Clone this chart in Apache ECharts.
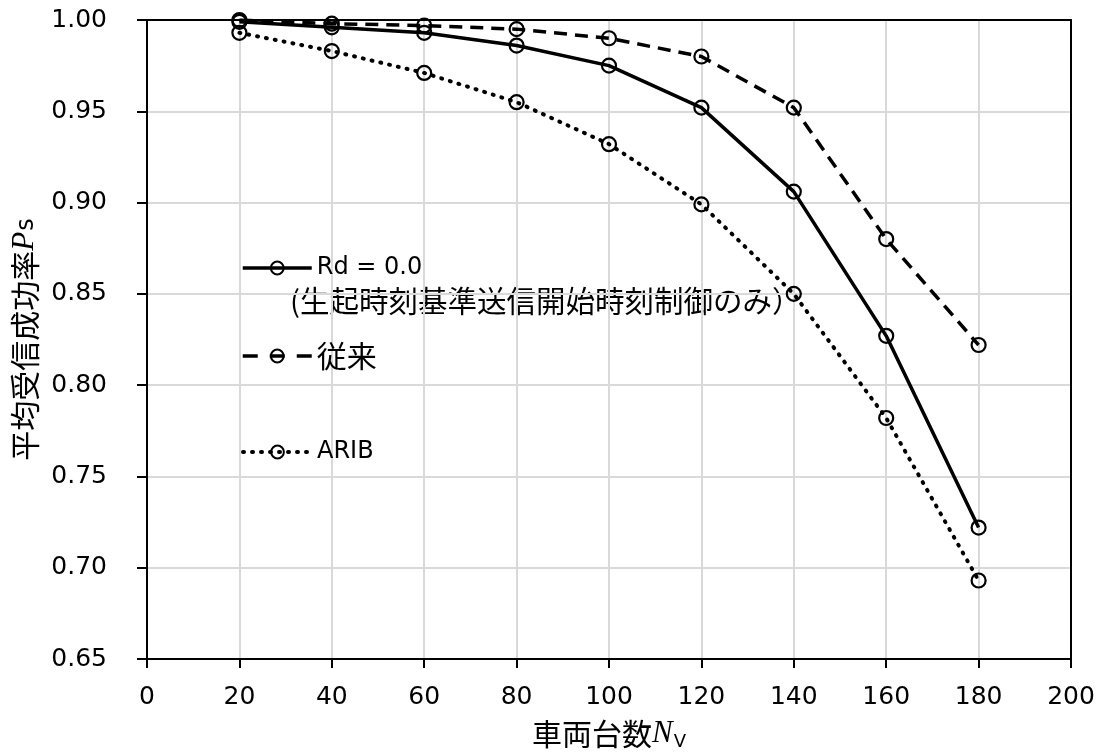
<!DOCTYPE html>
<html>
<head>
<meta charset="utf-8">
<script src="https://cdn.jsdelivr.net/npm/echarts@6/dist/echarts.min.js"></script>
<style>
html,body{margin:0;padding:0;background:#fff;}
#chart{width:1102px;height:756px;}
</style>
</head>
<body>
<div id="chart"></div>
<script>
// ---- data ----
const vehicles = [20, 40, 60, 80, 100, 120, 140, 160, 180];
const rd0Values = [0.999, 0.996, 0.993, 0.986, 0.975, 0.952, 0.906, 0.827, 0.722];
const conventionalValues = [1.000, 0.998, 0.997, 0.995, 0.990, 0.980, 0.952, 0.880, 0.822];
const aribValues = [0.993, 0.983, 0.971, 0.955, 0.932, 0.899, 0.850, 0.782, 0.693];
const seriesNames = ['Rd = 0.0', '従来', 'ARIB'];
const rd0Note = '(生起時刻基準送信開始時刻制御のみ）';
const xAxisTitle = '車両台数';
const yAxisTitle = '平均受信成功率';

const SANS = "'DejaVu Sans','Noto Sans CJK JP',sans-serif";
const CJK = "'Noto Sans CJK JP',sans-serif";

function pairs(vals){ return vehicles.map((x,i)=>[x, vals[i]]); }

const markerStyle = {color:'rgba(0,0,0,0)', borderColor:'#000', borderWidth:2.2};
const frameAxis = {show:true, axisLine:{show:true, onZero:false, lineStyle:{color:'#000', width:2}},
  axisTick:{show:false}, axisLabel:{show:false}, splitLine:{show:false}};

const chart = echarts.init(document.getElementById('chart'), null, {renderer:'canvas'});
chart.setOption({
  animation:false,
  backgroundColor:'#fff',
  grid:{left:147, right:31, top:20, bottom:96},
  xAxis:[{
    type:'value', min:0, max:200, interval:20,
    axisLine:{show:true, onZero:false, lineStyle:{color:'#000', width:2}},
    axisTick:{show:true, inside:false, length:9, lineStyle:{color:'#000', width:2}},
    axisLabel:{color:'#000', fontFamily:SANS, fontSize:25, margin:26},
    splitLine:{show:true, lineStyle:{color:'#d9d9d9', width:2}},
    name:'{a|' + xAxisTitle + '}{b|N}{c|V}',
    nameLocation:'middle', nameGap:58,
    nameTextStyle:{
      rich:{
        a:{fontFamily:CJK, fontSize:30, color:'#000'},
        b:{fontFamily:"'Liberation Serif',serif", fontStyle:'italic', fontSize:31, color:'#000'},
        c:{fontFamily:SANS, fontSize:18, color:'#000', padding:[16,0,0,1]}
      }
    }
  }, Object.assign({type:'value', min:0, max:200, position:'top'}, frameAxis)],
  yAxis:[{
    type:'value', min:0.65, max:1.0, interval:0.05,
    axisLine:{show:true, onZero:false, lineStyle:{color:'#000', width:2}},
    axisTick:{show:true, inside:false, length:10, lineStyle:{color:'#000', width:2}},
    axisLabel:{color:'#000', fontFamily:SANS, fontSize:25, margin:40, formatter:v=>v.toFixed(2)},
    splitLine:{show:true, lineStyle:{color:'#d9d9d9', width:2}},
    name:'{a|' + yAxisTitle + '}{b|P}{c|s}',
    nameLocation:'middle', nameGap:103, nameRotate:90,
    nameTextStyle:{
      rich:{
        a:{fontFamily:CJK, fontSize:30, color:'#000'},
        b:{fontFamily:"'Liberation Serif',serif", fontStyle:'italic', fontSize:31, color:'#000'},
        c:{fontFamily:SANS, fontSize:24, color:'#000', padding:[4,0,0,1]}
      }
    }
  }, Object.assign({type:'value', min:0.65, max:1.0, position:'right'}, frameAxis)],
  legend:[
    {data:[seriesNames[0]], left:241, top:256, padding:0, itemWidth:69, itemHeight:16,
     lineStyle:{width:3.5}, itemStyle:{borderWidth:2},
     textStyle:{fontFamily:SANS, fontSize:24, color:'#000'}},
    {data:[seriesNames[1]], left:241, top:341, padding:0, itemWidth:69, itemHeight:16,
     lineStyle:{width:3.5, type:[15,12]}, itemStyle:{borderWidth:2},
     textStyle:{fontFamily:CJK, fontSize:30, color:'#000'}},
    {data:[seriesNames[2]], left:241, top:440, padding:0, itemWidth:69, itemHeight:16,
     lineStyle:{width:4}, itemStyle:{borderWidth:2},
     textStyle:{fontFamily:SANS, fontSize:24, color:'#000'}}
  ],
  graphic:[
    {type:'text', left:290, top:286, silent:true,
     style:{text:rd0Note, fontFamily:CJK, fontSize:29.5, fill:'#000'}}
  ],
  series:[
    {name:seriesNames[0], type:'line', data:pairs(rd0Values), symbol:'circle', symbolSize:14,
     lineStyle:{color:'#000', width:3.5, type:'solid'}, itemStyle:markerStyle, z:3},
    {name:seriesNames[1], type:'line', data:pairs(conventionalValues), symbol:'circle', symbolSize:14,
     lineStyle:{color:'#000', width:3.5, type:[13,8]}, itemStyle:markerStyle, z:2},
    {name:seriesNames[2], type:'line', data:pairs(aribValues), symbol:'circle', symbolSize:14,
     lineStyle:{color:'#000', width:4, type:[1,8], cap:'round'}, itemStyle:markerStyle, z:1}
  ]
});
</script>
</body>
</html>
